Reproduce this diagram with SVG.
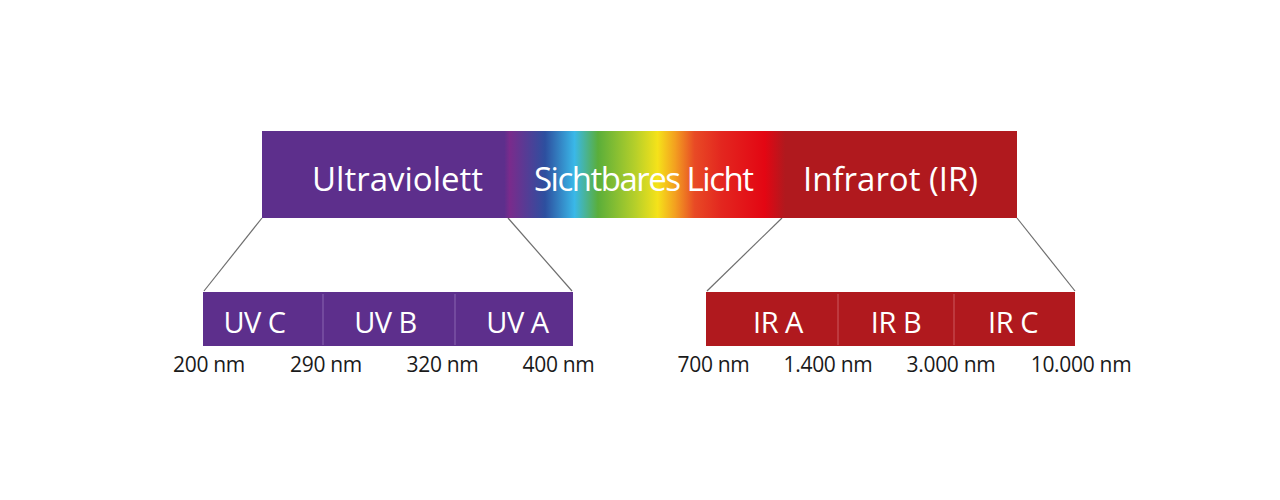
<svg xmlns="http://www.w3.org/2000/svg" width="1280" height="500" viewBox="0 0 1280 500">
<style>
.big{font-family:"Open Sans","Liberation Sans",sans-serif;font-size:33px;fill:#fff}
.mid{font-family:"Open Sans","Liberation Sans",sans-serif;font-size:29px;fill:#fff;letter-spacing:-0.5px}
.num{font-family:"Open Sans","Liberation Sans",sans-serif;font-size:21px;fill:#1a1a1a;letter-spacing:-0.3px}
.uv{fill:#5d2f8c}
.ir{fill:#b0191e}
.div{stroke:#8a67b0;stroke-width:1}
.divr{stroke:#cc5a5e;stroke-width:1}
.conn{stroke:#6e6e6e;stroke-width:1.2;fill:none}
</style>
<defs>
<linearGradient id="spec" gradientUnits="userSpaceOnUse" x1="262" y1="0" x2="1017" y2="0">
<stop offset="0" stop-color="#5d2f8c"/>
<stop offset="0.321" stop-color="#5d2f8c"/>
<stop offset="0.328" stop-color="#7a2b8c"/>
<stop offset="0.375" stop-color="#2d4f9f"/>
<stop offset="0.414" stop-color="#3ab8e8"/>
<stop offset="0.445" stop-color="#5aae3a"/>
<stop offset="0.494" stop-color="#b5cf2a"/>
<stop offset="0.524" stop-color="#f5e21a"/>
<stop offset="0.547" stop-color="#f3a020"/>
<stop offset="0.573" stop-color="#e84a25"/>
<stop offset="0.609" stop-color="#e3261f"/>
<stop offset="0.666" stop-color="#e30613"/>
<stop offset="0.693" stop-color="#b0191e"/>
<stop offset="1" stop-color="#b0191e"/>
</linearGradient>
</defs>
<rect width="1280" height="500" fill="#fff"/>
<g id="connectors">
<line class="conn" x1="262" y1="218" x2="204" y2="291"/>
<line class="conn" x1="508" y1="218" x2="572" y2="291"/>
<line class="conn" x1="782" y1="218" x2="707" y2="291"/>
<line class="conn" x1="1017" y1="218" x2="1075" y2="291"/>
</g>
<g id="spectrum">
<rect x="262" y="131" width="755" height="87" fill="url(#spec)"/>
<text class="big" x="312" y="191">Ultraviolett</text>
<text class="big" x="534" y="191" letter-spacing="-1.5">Sichtbares Licht</text>
<text class="big" x="803" y="191">Infrarot (IR)</text>
</g>
<g id="uv-bar">
<rect class="uv" x="203" y="292" width="370" height="54"/>
<line class="div" x1="323" y1="294" x2="323" y2="345"/>
<line class="div" x1="455" y1="294" x2="455" y2="345"/>
<text class="mid" x="254.5" y="333" text-anchor="middle">UV C</text>
<text class="mid" x="385.5" y="333" text-anchor="middle">UV B</text>
<text class="mid" x="517.5" y="333" text-anchor="middle">UV A</text>
</g>
<g id="uv-scale">
<text class="num" x="209" y="372" text-anchor="middle">200 nm</text>
<text class="num" x="326" y="372" text-anchor="middle">290 nm</text>
<text class="num" x="442.5" y="372" text-anchor="middle">320 nm</text>
<text class="num" x="558.5" y="372" text-anchor="middle">400 nm</text>
</g>
<g id="ir-bar">
<rect class="ir" x="706" y="292" width="369" height="54"/>
<line class="divr" x1="838" y1="294" x2="838" y2="345"/>
<line class="divr" x1="954" y1="294" x2="954" y2="345"/>
<text class="mid" x="778" y="333" text-anchor="middle">IR A</text>
<text class="mid" x="896" y="333" text-anchor="middle">IR B</text>
<text class="mid" x="1013" y="333" text-anchor="middle">IR C</text>
</g>
<g id="ir-scale">
<text class="num" x="713.5" y="372" text-anchor="middle">700 nm</text>
<text class="num" x="828" y="372" text-anchor="middle">1.400 nm</text>
<text class="num" x="951" y="372" text-anchor="middle">3.000 nm</text>
<text class="num" x="1081" y="372" text-anchor="middle">10.000 nm</text>
</g>
</svg>
